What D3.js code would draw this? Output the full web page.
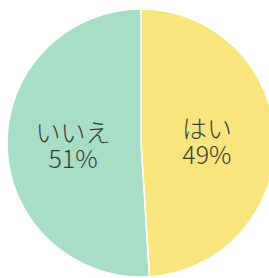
<!DOCTYPE html>
<html>
<head>
<meta charset="utf-8">
<script src="https://cdn.jsdelivr.net/npm/d3@7"></script>
<style>
  html, body { margin: 0; padding: 0; background: #fff; }
  svg { display: block; }
</style>
</head>
<body>
<svg width="269" height="278"></svg>
<script>
// answers and their shares (percent)
var labels = ['はい', 'いいえ']
var values = [49, 51]
var colors = ['#f9e57e', '#a9dec6']

var svg = d3.select('svg')
var cx = 141, cy = 143, r = 134

var pie = d3.pie().sort(null).value(function(d) { return d })
var arc = d3.arc().innerRadius(0).outerRadius(r)
var labelArc = d3.arc().innerRadius(r * 0.5).outerRadius(r * 0.5)

var g = svg.append('g').attr('transform', 'translate(' + cx + ',' + cy + ')')

var slices = pie(values)

g.selectAll('path')
  .data(slices)
  .enter().append('path')
  .attr('d', arc)
  .attr('fill', function(d, i) { return colors[i] })
  .attr('stroke', '#fff')
  .attr('stroke-width', 1.5)

// name line, then percent line, each its own text
function addLine(cls, dy, fn) {
  g.selectAll('text.' + cls)
    .data(slices)
    .enter().append('text')
    .attr('class', cls)
    .attr('x', function(d) { return labelArc.centroid(d)[0] - 1 })
    .attr('y', function(d) { return labelArc.centroid(d)[1] + dy })
    .attr('text-anchor', 'middle')
    .attr('font-family', 'Noto Sans CJK JP, Noto Sans, sans-serif')
    .attr('font-weight', 300)
    .attr('font-size', 25)
    .attr('fill', '#3a3d3a')
    .text(fn)
}
addLine('name', -3, function(d, i) { return labels[i] })
addLine('pct', 23, function(d) { return d.data + '%' })
</script>
</body>
</html>
